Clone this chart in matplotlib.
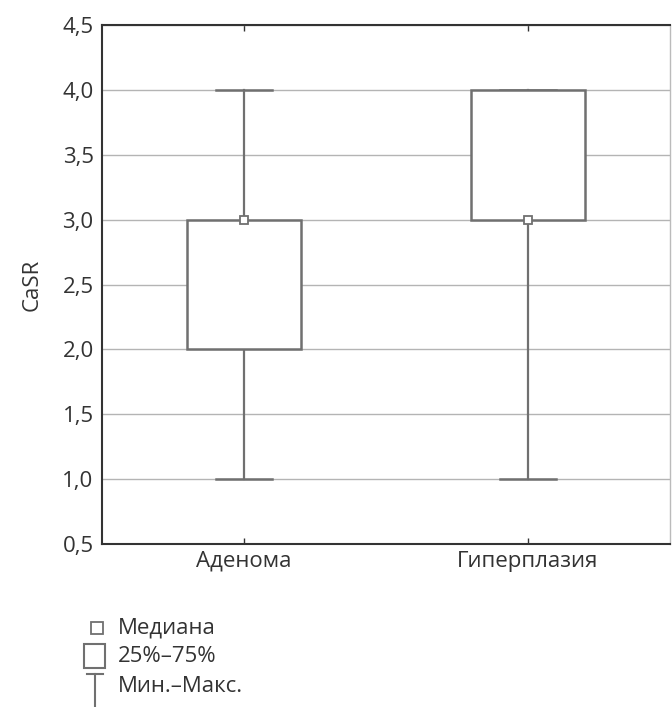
import matplotlib
matplotlib.use("Agg")
import matplotlib.pyplot as plt
from matplotlib.patches import Rectangle

plt.rcParams['font.family'] = ['Open Sans', 'DejaVu Sans']

# Summary statistics per group
categories = ["Аденома", "Гиперплазия"]
minimum = [1.0, 1.0]
q25 = [2.0, 3.0]
median = [3.0, 3.0]
q75 = [3.0, 4.0]
maximum = [4.0, 4.0]
y_ticks = [0.5, 1.0, 1.5, 2.0, 2.5, 3.0, 3.5, 4.0, 4.5]
legend_labels = ["Медиана", "25%–75%", "Мин.–Макс."]

line_col = "#707070"
grid_col = "#b4b4b4"
text_col = "#333333"
fs = 16

fig = plt.figure(figsize=(6.72, 7.07), dpi=100)
ax = fig.add_axes([102 / 672, 1 - 544 / 707, 568 / 672, (544 - 25) / 707])

ax.set_xlim(0.5, 2.5)
ax.set_ylim(0.5, 4.5)
ax.set_yticks(y_ticks)
ax.set_yticklabels([f"{v:.1f}".replace(".", ",") for v in y_ticks])
ax.set_xticks(range(1, len(categories) + 1))
ax.set_xticklabels(categories)
ax.grid(axis="y", color=grid_col, lw=1.0, zorder=0)
ax.set_axisbelow(True)

box_w = 0.4
cap_w = 0.2
for i, cat in enumerate(categories):
    x = i + 1
    # whisker from min to max
    ax.plot([x, x], [minimum[i], maximum[i]], color=line_col, lw=1.6, zorder=2)
    ax.plot([x - cap_w / 2, x + cap_w / 2], [minimum[i], minimum[i]], color=line_col, lw=1.8, zorder=3)
    ax.plot([x - cap_w / 2, x + cap_w / 2], [maximum[i], maximum[i]], color=line_col, lw=1.8, zorder=3)
    # interquartile box
    ax.add_patch(Rectangle((x - box_w / 2, q25[i]), box_w, q75[i] - q25[i],
                           facecolor="white", edgecolor=line_col, lw=1.8, zorder=4))
    # median marker
    ax.plot([x], [median[i]], marker="s", ms=6, mfc="white", mec=line_col, mew=1.3, zorder=5)

for side in ["left", "bottom", "top"]:
    ax.spines[side].set_color("#333333")
    ax.spines[side].set_linewidth(1.5)
ax.spines["right"].set_color("#bbbbbb")
ax.spines["right"].set_linewidth(1.0)

ax.tick_params(axis="both", labelsize=fs, colors=text_col, length=4, width=1.0, direction="in",
               top=True, bottom=True, left=False)
ax.tick_params(axis="y", pad=6)
ax.tick_params(axis="x", pad=5)
ax.set_ylabel("CaSR", fontsize=fs, color=text_col, labelpad=14)

# Legend drawn in its own small axes
lax = fig.add_axes([70 / 672, 1 - 707 / 707, 300 / 672, 100 / 707])
lax.set_xlim(0, 300)
lax.set_ylim(100, 0)
lax.axis("off")
lax.plot([27], [21], marker="s", ms=8, mfc="white", mec=line_col, mew=1.3)
lax.add_patch(Rectangle((14, 37), 21, 24, facecolor="white", edgecolor=line_col, lw=1.5))
lax.plot([17, 33], [67, 67], color=line_col, lw=1.5)
lax.plot([25, 25], [67, 100], color=line_col, lw=1.5)
for yy, lab in zip([21, 49, 80], legend_labels):
    lax.text(48, yy, lab, fontsize=fs, color=text_col, va="center", ha="left")

fig.savefig("out.png", dpi=100, facecolor="white")
